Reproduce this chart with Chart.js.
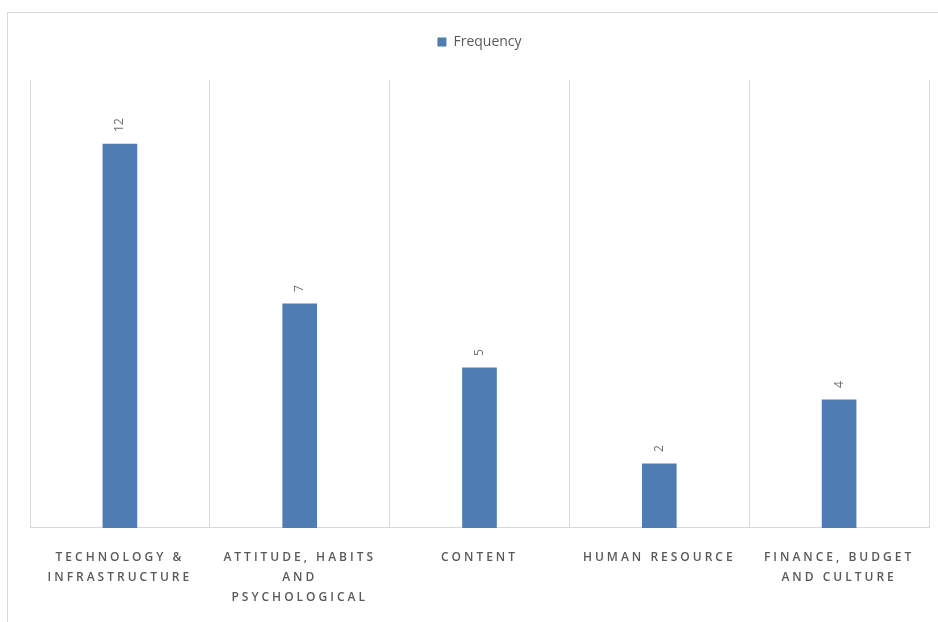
<!DOCTYPE html>
<html>
<head>
<meta charset="utf-8">
<script src="https://cdn.jsdelivr.net/npm/chart.js@4.4.1/dist/chart.umd.min.js"></script>
<style>
    body { margin: 0; background: #fff; overflow: hidden; }
    #marco { position: absolute; left: 7px; top: 12px; width: 960px; height: 640px; border: 1px solid #d9d9d9; }
    #lienzo { position: absolute; left: 0; top: 0; }
</style>
</head>
<body>
<div id="marco"></div>
<canvas id="lienzo" width="938" height="629"></canvas>
<script>
// Datos del grafico
const categorias = [
    ["TECHNOLOGY &", "INFRASTRUCTURE"],
    ["ATTITUDE, HABITS", "AND", "PSYCHOLOGICAL"],
    ["CONTENT"],
    ["HUMAN RESOURCE"],
    ["FINANCE, BUDGET", "AND CULTURE"]
];
const frecuencias = [12, 7, 5, 2, 4];
const nombreSerie = "Frequency";

// Etiquetas de valor giradas encima de cada barra
const etiquetasValor = {
    id: 'etiquetasValor',
    beforeLayout(chart) {
        // espacio extra debajo de la leyenda
        const lg = chart.legend;
        if (lg && !lg._ajustado) {
            const fitOriginal = lg.fit.bind(lg);
            lg.fit = function () { fitOriginal(); this.height += 21; };
            lg._ajustado = true;
        }
    },
    beforeDraw(chart) {
        chart.ctx.letterSpacing = '0px';
    },
    afterDatasetsDraw(chart) {
        const ctx = chart.ctx;
        const meta = chart.getDatasetMeta(0);
        ctx.save();
        ctx.fillStyle = '#6f6f6f';
        ctx.font = '12px "Open Sans"';
        ctx.textAlign = 'left';
        ctx.textBaseline = 'middle';
        meta.data.forEach((barra, i) => {
            ctx.save();
            ctx.translate(barra.x, barra.y - 12);
            ctx.rotate(-Math.PI / 2);
            ctx.fillText(String(frecuencias[i]), 0, 0);
            ctx.restore();
        });
        ctx.restore();
        // espaciado de letras para las etiquetas del eje x (se dibujan despues)
        ctx.letterSpacing = '3px';
    },
    afterDraw(chart) {
        chart.ctx.letterSpacing = '0px';
    }
};

new Chart(document.getElementById('lienzo'), {
    type: 'bar',
    data: {
        labels: categorias,
        datasets: [{
            label: nombreSerie,
            data: frecuencias,
            backgroundColor: '#4f7db3',
            barThickness: 34
        }]
    },
    options: {
        responsive: false,
        animation: false,
        layout: { padding: { left: 30, right: 9, top: 25, bottom: 1 } },
        plugins: {
            legend: {
                display: true,
                position: 'top',
                labels: {
                    boxWidth: 9,
                    boxHeight: 9,
                    color: '#595959',
                    font: { family: '"Open Sans"', size: 14 },
                    padding: 10
                }
            },
            tooltip: { enabled: false }
        },
        scales: {
            x: {
                grid: { display: true, color: '#d9d9d9', drawTicks: false, offset: true },
                border: { color: '#d9d9d9' },
                ticks: {
                    z: 1,
                    color: '#595959',
                    font: { family: '"Open Sans"', size: 12, weight: '600', lineHeight: 1.67 },
                    padding: 20,
                    maxRotation: 0,
                    autoSkip: false
                }
            },
            y: {
                display: false,
                min: 0,
                max: 14
            }
        }
    },
    plugins: [etiquetasValor]
});
</script>
</body>
</html>
